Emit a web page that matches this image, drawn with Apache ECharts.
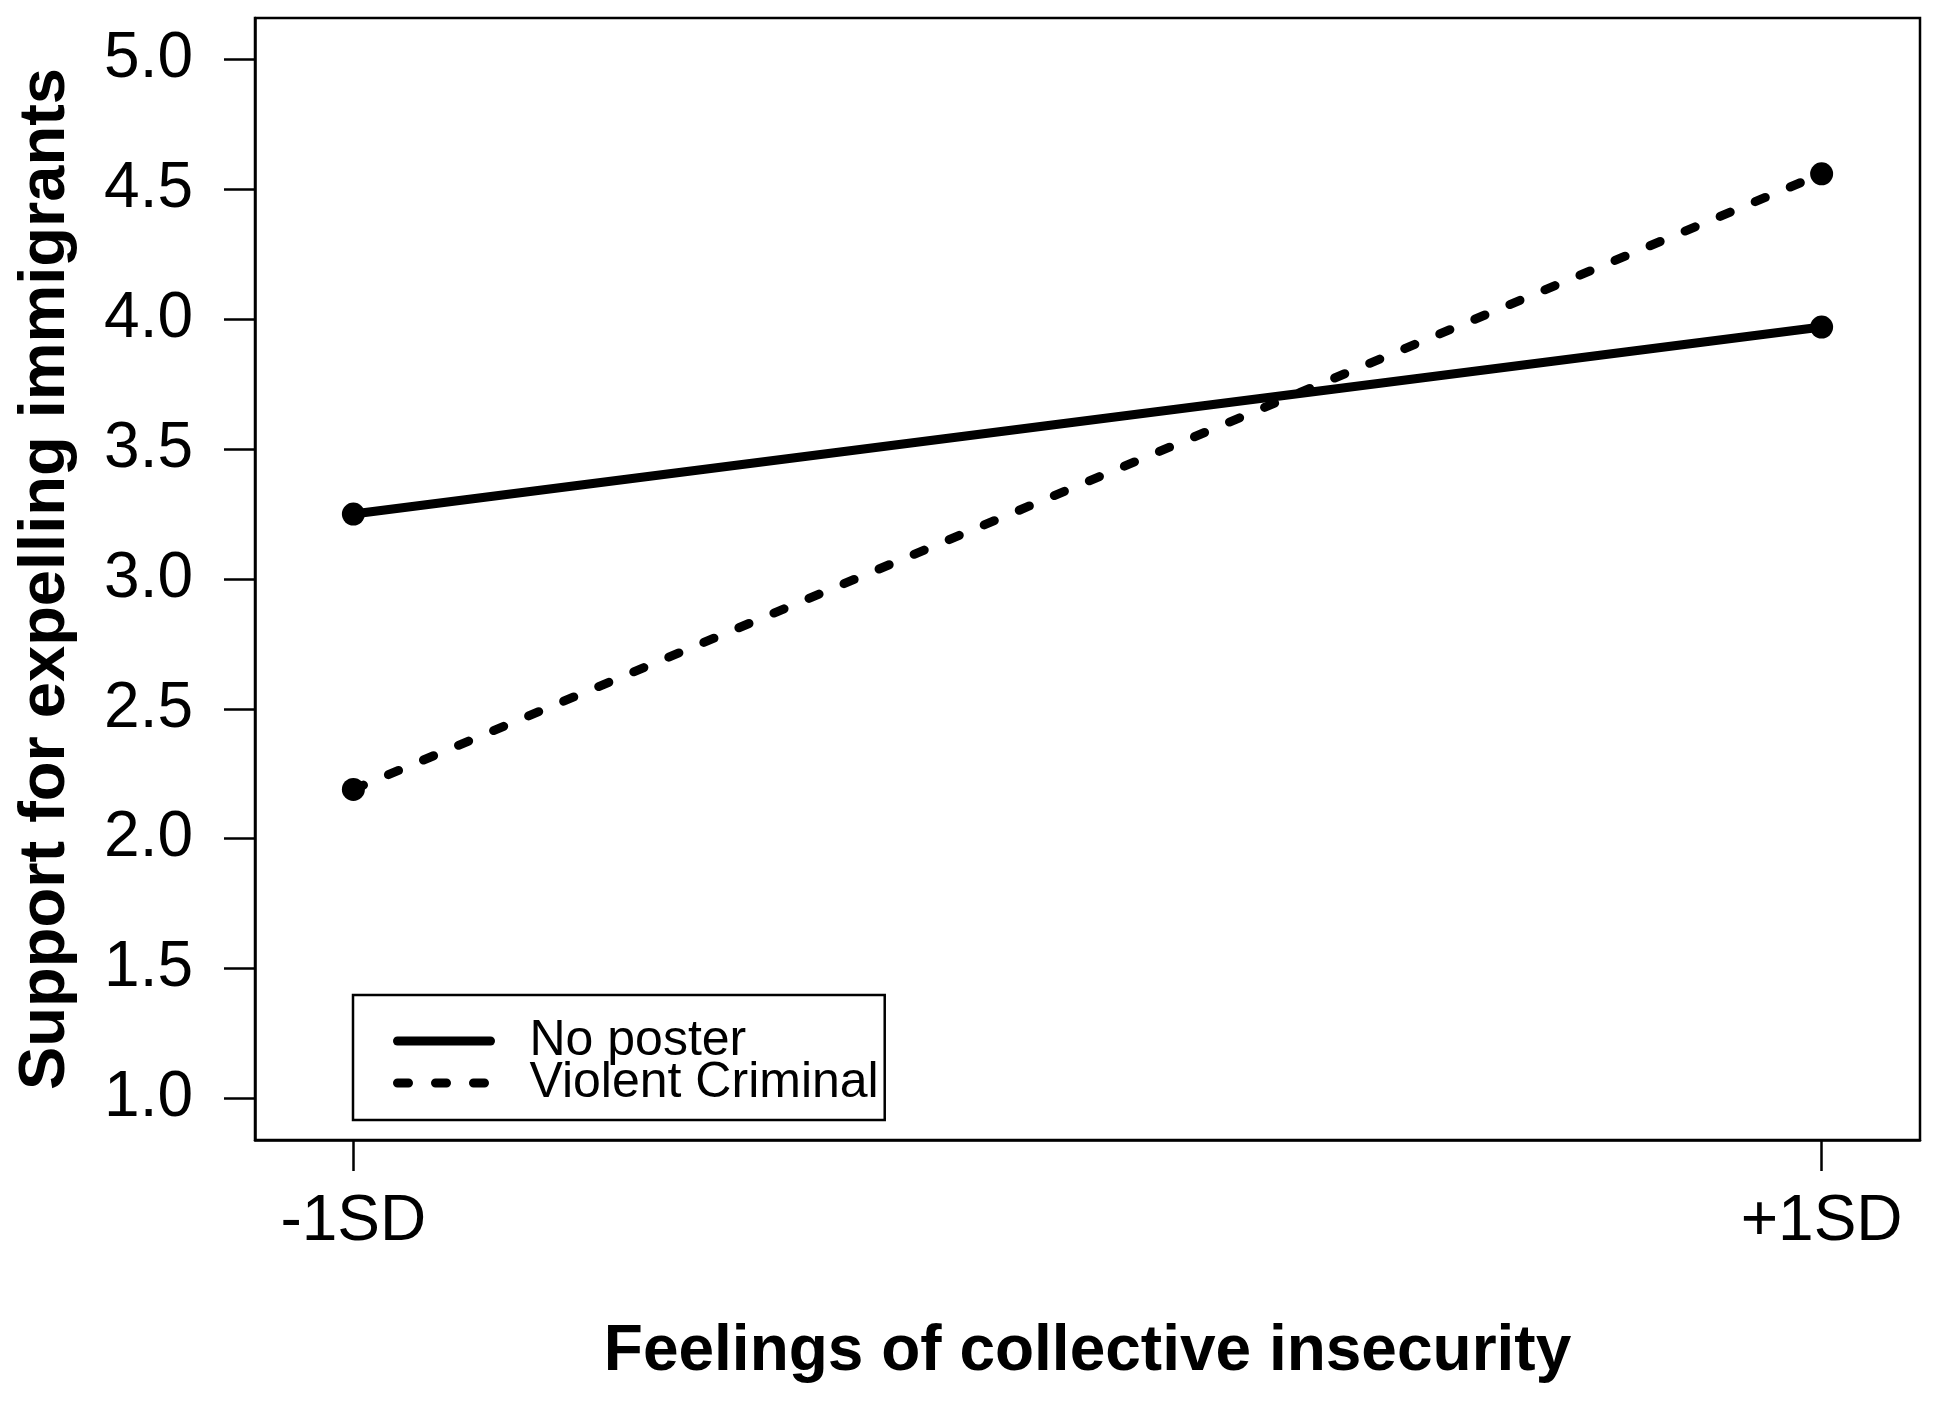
<!DOCTYPE html>
<html>
<head>
<meta charset="utf-8">
<script src="https://cdn.jsdelivr.net/npm/echarts@6.0.0/dist/echarts.min.js"></script>
<style>
  html, body { margin: 0; padding: 0; background: #fff; }
  #chart { width: 1940px; height: 1407px; }
</style>
</head>
<body>
<div id="chart"></div>
<script>
  // x positions of the two conditions and their tick labels
  var xPositions = [1, 2];
  var xLabels = ['-1SD', '+1SD'];
  var yTicks = [1.0, 1.5, 2.0, 2.5, 3.0, 3.5, 4.0, 4.5, 5.0];

  var seriesNames = ['No poster', 'Violent Criminal'];
  var noPoster = [3.25, 3.97];
  var violentCriminal = [2.19, 4.56];

  var font = 'Liberation Sans, Arial, Helvetica, sans-serif';

  function pairs(values) {
    return xPositions.map(function (x, i) { return [x, values[i]]; });
  }

  var axisLine = { show: true, onZero: false, lineStyle: { color: '#000', width: 2.5 } };

  var option = {
    animation: false,
    backgroundColor: '#fff',
    grid: {
      left: 255, right: 20, top: 18, bottom: 267,
      show: true, borderColor: '#000', borderWidth: 2.5, backgroundColor: 'transparent'
    },
    legend: {
      orient: 'vertical',
      left: 353, top: 995,
      padding: [21, 6, 12, 40],
      itemGap: -8,
      itemWidth: 93,
      itemHeight: 20,
      borderColor: '#000',
      borderWidth: 2.5,
      itemStyle: { opacity: 0 },
      lineStyle: { width: 9, cap: 'round' },
      textStyle: { fontFamily: font, fontSize: 50, lineHeight: 44, color: '#000', padding: [0, 0, 0, 34] },
      data: seriesNames
    },
    xAxis: {
      type: 'value',
      min: 0.933, max: 2.067,
      name: 'Feelings of collective insecurity',
      nameLocation: 'middle',
      nameGap: 180,
      nameTextStyle: { fontFamily: font, fontSize: 64, fontWeight: 'bold', color: '#000' },
      axisLine: axisLine,
      axisTick: { show: true, length: 31, customValues: xPositions, lineStyle: { color: '#000', width: 2.5 } },
      axisLabel: {
        customValues: xPositions,
        margin: 50,
        fontFamily: font, fontSize: 64, color: '#000',
        formatter: function (v) { return xLabels[xPositions.indexOf(v)]; }
      },
      splitLine: { show: false }
    },
    yAxis: {
      type: 'value',
      min: 0.84, max: 5.16,
      name: 'Support for expelling immigrants',
      nameLocation: 'middle',
      nameGap: 176,
      nameTextStyle: { fontFamily: font, fontSize: 65, fontWeight: 'bold', color: '#000' },
      axisLine: axisLine,
      axisTick: { show: true, length: 31, customValues: yTicks, lineStyle: { color: '#000', width: 2.5 } },
      axisLabel: {
        customValues: yTicks,
        margin: 62,
        fontFamily: font, fontSize: 64, color: '#000',
        formatter: function (v) { return v.toFixed(1); }
      },
      splitLine: { show: false }
    },
    series: [
      {
        name: seriesNames[0],
        type: 'line',
        data: pairs(noPoster),
        symbol: 'circle',
        symbolSize: 23,
        itemStyle: { color: '#000' },
        lineStyle: { color: '#000', width: 9, cap: 'round' }
      },
      {
        name: seriesNames[1],
        type: 'line',
        data: pairs(violentCriminal),
        symbol: 'circle',
        symbolSize: 23,
        itemStyle: { color: '#000' },
        lineStyle: { color: '#000', width: 9, type: [11, 27], cap: 'round' }
      }
    ]
  };

  var chart = echarts.init(document.getElementById('chart'));
  chart.setOption(option);
</script>
</body>
</html>
